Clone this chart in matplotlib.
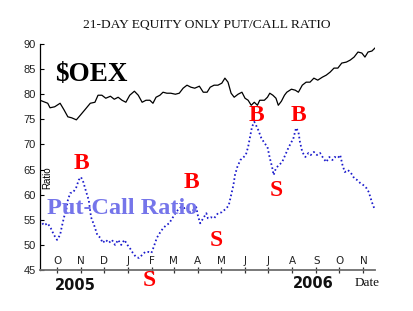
import matplotlib
matplotlib.use("Agg")
import matplotlib.pyplot as plt

# ---------------- data ----------------
# x values: days since 1 Oct 2005
oex_day = [-22, -12, -9, -3, 4, 9, 14, 19, 25, 30, 36, 43, 49, 53, 58, 63, 69, 74, 79, 84,
           89, 94, 100, 105, 110, 115, 120, 124, 128, 133, 137, 142, 147, 153, 158, 163, 168,
           173, 178, 184, 189, 194, 198, 203, 208, 213, 217, 221, 225, 229, 234, 239, 243,
           247, 251, 255, 259, 262, 268, 272, 275, 279, 283, 286, 290, 294, 297, 303, 308,
           312, 317, 322, 327, 332, 337, 343, 348, 353, 358, 363, 368, 374, 379, 384, 389,
           394, 398, 402, 407, 411]
oex_val = [78.8, 78.2, 77.3, 77.5, 78.2, 76.9, 75.5, 75.3, 74.9, 75.8, 76.9, 78.2, 78.4, 79.8,
           79.8, 79.2, 79.6, 79.0, 79.4, 78.8, 78.4, 79.8, 80.6, 79.8, 78.4, 78.8, 78.8, 78.2,
           79.4, 79.8, 80.4, 80.2, 80.2, 80.0, 80.2, 81.2, 81.8, 81.4, 81.2, 81.6, 80.4, 80.4,
           81.4, 81.8, 81.8, 82.2, 83.2, 82.4, 80.2, 79.4, 80.0, 80.4, 79.2, 78.8, 77.8, 78.4,
           77.8, 78.8, 78.8, 79.4, 80.2, 79.8, 79.2, 77.8, 78.6, 79.8, 80.4, 81.0, 80.8, 80.4,
           81.8, 82.4, 82.4, 83.2, 82.8, 83.4, 83.8, 84.4, 85.2, 85.2, 86.2, 86.4, 86.8, 87.4,
           88.4, 88.2, 87.4, 88.4, 88.6, 89.2]

pc_day = [-22, -17, -12, -8, -4, 0, 4, 6, 9, 12, 14, 17, 21, 25, 28, 31, 34, 37, 41, 44, 48,
          52, 56, 59, 63, 67, 71, 75, 79, 83, 87, 91, 94, 98, 102, 106, 110, 114, 118, 122,
          125, 129, 133, 137, 141, 145, 149, 153, 156, 160, 164, 168, 172, 176, 180, 182, 185,
          189, 193, 195, 199, 203, 208, 213, 219, 222, 225, 228, 230, 233, 237, 240, 244, 247,
          250, 252, 255, 257, 260, 264, 268, 272, 275, 278, 280, 283, 287, 291, 295, 299, 303,
          305, 309, 312, 314, 317, 321, 325, 328, 332, 336, 340, 344, 348, 352, 356, 359, 363,
          366, 369, 372, 376, 380, 384, 388, 392, 396, 400, 403, 407, 411]
pc_val = [55.0, 53.9, 54.3, 53.3, 52.0, 51.0, 52.0, 53.5, 55.5, 57.0, 58.9, 60.3, 60.5, 61.5,
          62.9, 63.5, 62.5, 60.9, 58.9, 55.5, 53.9, 52.0, 51.4, 50.4, 51.0, 50.4, 51.0, 50.0,
          51.0, 50.0, 51.0, 50.0, 49.4, 48.4, 47.6, 47.4, 48.0, 48.6, 48.6, 48.4, 49.6, 51.4,
          52.4, 53.3, 53.9, 54.3, 55.3, 56.3, 56.9, 57.5, 57.3, 57.5, 56.5, 56.9, 57.5, 55.9,
          54.3, 55.3, 56.3, 55.3, 55.5, 55.3, 56.3, 56.5, 57.3, 57.9, 59.9, 61.9, 63.9, 65.5,
          66.9, 67.3, 67.9, 69.5, 71.9, 73.5, 74.5, 73.9, 72.9, 71.3, 70.3, 69.5, 67.3, 65.5,
          63.9, 65.3, 65.9, 66.5, 67.9, 69.3, 70.5, 70.9, 73.3, 72.5, 70.5, 68.5, 67.5, 68.3,
          67.9, 68.5, 67.9, 68.3, 67.3, 66.5, 67.5, 66.9, 67.5, 67.3, 67.9, 65.9, 64.5, 64.9,
          64.3, 63.3, 62.9, 62.3, 61.9, 61.3, 60.5, 58.5, 56.9]

month_days = [0, 31, 61, 92, 123, 151, 182, 212, 243, 273, 304, 335, 365, 396]
month_labels = ["O", "N", "D", "J", "F", "M", "A", "M", "J", "J", "A", "S", "O", "N"]
y_ticks = [45, 50, 55, 60, 65, 70, 75, 80, 85, 90]

signal_labels = ["B", "B", "B", "B", "S", "S", "S"]

# ---------------- figure ----------------
W, H = 414, 311
fig = plt.figure(figsize=(W / 100, H / 100), dpi=100)
fig.patch.set_facecolor("white")


def fx(px):
    return px / W


def fy(py):
    return 1 - py / H


ax = fig.add_axes([fx(40), fy(270), fx(375) - fx(40), fy(44) - fy(270)])
ax.set_xlim(-22, 411)
ax.set_ylim(45, 90)

ax.plot(oex_day, oex_val, color="black", lw=0.9)
ax.plot(pc_day, pc_val, color="#1a1acc", lw=1.3, linestyle=(0, (0.9, 1.4)))

for s in ["top", "right"]:
    ax.spines[s].set_visible(False)
ax.spines["left"].set_color("black")
ax.spines["left"].set_linewidth(0.9)
ax.spines["bottom"].set_color("#6e6e6e")
ax.spines["bottom"].set_linewidth(1.3)

ax.set_yticks(y_ticks)
ax.set_yticklabels([str(v) for v in y_ticks], fontfamily="Liberation Sans", fontsize=8,
                   color="#222222")
ax.tick_params(axis="y", direction="in", length=3, width=0.8, pad=3, color="black")

ax.set_xticks(month_days)
ax.tick_params(axis="x", direction="inout", length=4, width=0.9, color="#333333",
               labelbottom=False)
for d, lab in zip(month_days, month_labels):
    ax.text(d, 0.04, lab, transform=ax.get_xaxis_transform(), ha="center", va="center",
            fontfamily="DejaVu Sans", fontsize=7.5, color="#222222")

# titles and labels
fig.text(fx(207), fy(25), "21-DAY EQUITY ONLY PUT/CALL RATIO", ha="center", va="center",
         fontfamily="Liberation Serif", fontsize=9.7, color="#111111")
fig.text(fx(55), fy(81), "$OEX", ha="left", va="baseline", fontfamily="Liberation Serif",
         fontweight="bold", fontsize=19.5, color="black")
fig.text(fx(47), fy(214), "Put-Call Ratio", ha="left", va="baseline",
         fontfamily="Liberation Serif", fontweight="bold", fontsize=17.5, color="#7575ea")
fig.text(fx(47), fy(178), "Ratio", rotation=90, ha="center", va="center",
         fontfamily="Liberation Sans", fontsize=7, color="black")
fig.text(fx(75), fy(285), "2005", ha="center", va="center", fontfamily="DejaVu Sans",
         fontweight="bold", fontsize=10.5, color="#111111")
fig.text(fx(313), fy(284), "2006", ha="center", va="center", fontfamily="DejaVu Sans",
         fontweight="bold", fontsize=10.5, color="#111111")
fig.text(fx(367), fy(283), "Date", ha="center", va="center", fontfamily="Liberation Serif",
         fontsize=9.5, color="#111111")

# buy/sell signal letters (pixel positions)
signal_pos = [(81, 164), (191, 182), (256, 115), (298, 115), (149, 280), (216, 241), (276, 190)]
for lab, (px, py) in zip(signal_labels, signal_pos):
    fig.text(fx(px), fy(py), lab, ha="center", va="center", fontfamily="Liberation Serif",
             fontweight="bold", fontsize=17, color="#ff0000")

fig.savefig("out.png", dpi=100, facecolor="white")
